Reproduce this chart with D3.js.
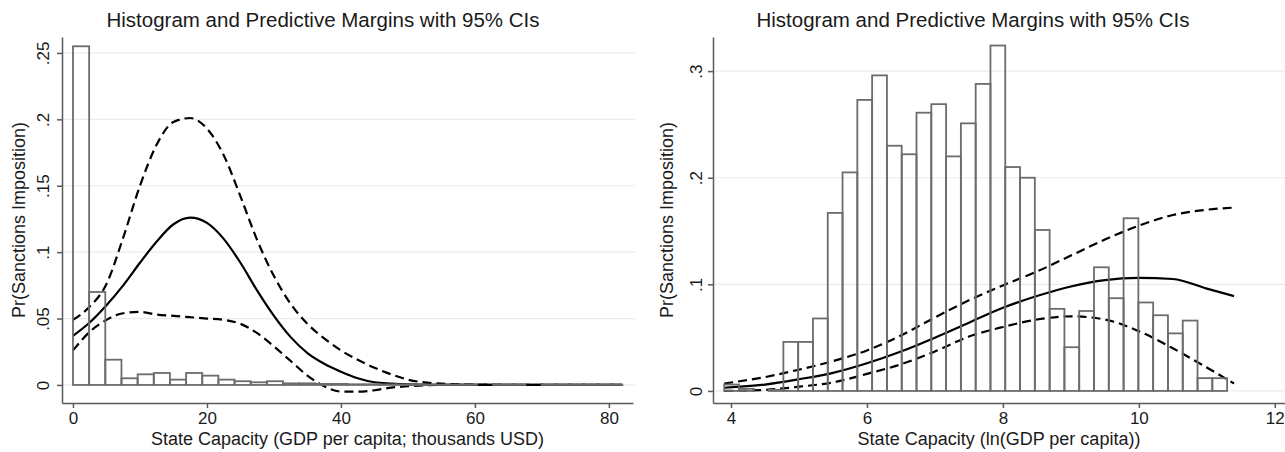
<!DOCTYPE html>
<html lang="en">
<head>
<meta charset="UTF-8">
<title>Histogram and Predictive Margins with 95% CIs</title>
<style>
  body { margin: 0; background: #fff; font-family: "Liberation Sans", Arial, sans-serif; }
  svg { display: block; background: #fff; }
  .grid line { stroke: #ebebeb; stroke-width: 1.2; }
  .axis path, .axis line { stroke: #5a5a5a; stroke-width: 1.5; }
  .axis text { font-size: 17px; fill: #1a1a1a; font-family: "Liberation Sans", Arial, sans-serif; }
  .bar { fill: none; stroke: #6c6c6c; stroke-width: 1.8; }
  .fit { fill: none; stroke: #000; stroke-width: 2.2; }
  .ci { stroke-dasharray: 9 5; }
  .title { font-size: 20.5px; fill: #1a1a1a; }
  .label { font-size: 18px; fill: #1a1a1a; }
</style>
<script src="https://d3js.org/d3.v7.min.js"></script>
</head>
<body>
<svg width="1285" height="452"></svg>
<script>
// ---- left panel: GDP per capita (thousands USD) ----
const leftHistStart = 0;
const leftHistWidth = 2.412;
const leftHistDensity = [0.255, 0.070, 0.019, 0.005, 0.008, 0.009, 0.004, 0.009, 0.007, 0.004,
  0.0028, 0.002, 0.0028, 0.0012, 0.0012, 0.0008, 0.0008, 0.0005, 0.0005, 0.0004,
  0.0004, 0.0002, 0.0002, 0.0002, 0.0002, 0, 0.0002, 0.0002, 0, 0.0001,
  0.0001, 0.0001, 0.0001, 0.0001];
const leftX = [0, 2.5, 5, 7.5, 10, 12.5, 15, 17.5, 20, 22.5, 25, 27.5, 30, 32.5, 35, 37.5,
  40, 42.5, 45, 47.5, 50, 55, 60, 70, 82];
const leftFit = [0.037, 0.047, 0.060, 0.075, 0.092, 0.108, 0.121, 0.126, 0.122, 0.110, 0.092,
  0.071, 0.052, 0.036, 0.024, 0.016, 0.010, 0.005, 0.002, 0.001, 0.0004, 0.0001, 0, 0, 0];
const leftUpper = [0.049, 0.059, 0.076, 0.111, 0.150, 0.181, 0.198, 0.201, 0.193, 0.173, 0.142,
  0.109, 0.082, 0.061, 0.046, 0.035, 0.026, 0.019, 0.013, 0.008, 0.004, 0.001, 0.0003, 0, 0];
const leftLower = [0.026, 0.040, 0.049, 0.054, 0.055, 0.053, 0.052, 0.051, 0.050, 0.049, 0.046,
  0.039, 0.029, 0.018, 0.007, -0.001, -0.005, -0.005, -0.004, -0.002, -0.001, 0, 0, 0, 0];
const leftXTicks = [0, 20, 40, 60, 80];
const leftYTicks = [0, 0.05, 0.1, 0.15, 0.2, 0.25];
const leftYTickLabels = ["0", ".05", ".1", ".15", ".2", ".25"];

// ---- right panel: ln(GDP per capita) ----
const rightHistStart = 3.90;
const rightHistWidth = 0.2176;
const rightHistDensity = [0.006, 0.002, 0, 0.001, 0.046, 0.046, 0.068, 0.167, 0.205, 0.273,
  0.296, 0.230, 0.222, 0.261, 0.269, 0.220, 0.251, 0.288, 0.324, 0.210,
  0.200, 0.151, 0.077, 0.041, 0.075, 0.116, 0.087, 0.162, 0.083, 0.071,
  0.054, 0.066, 0.012, 0.012];
const rightX = [3.9, 4.5, 5, 5.5, 6, 6.5, 7, 7.5, 8, 8.5, 9, 9.5, 10, 10.5, 11, 11.4];
const rightFit = [0.003, 0.006, 0.011, 0.017, 0.026, 0.037, 0.050, 0.064, 0.078, 0.089,
  0.098, 0.104, 0.106, 0.105, 0.096, 0.089];
const rightUpper = [0.007, 0.013, 0.020, 0.028, 0.038, 0.052, 0.069, 0.085, 0.099, 0.112,
  0.127, 0.142, 0.155, 0.165, 0.170, 0.172];
const rightLower = [0.000, 0.001, 0.004, 0.008, 0.016, 0.025, 0.037, 0.051, 0.060, 0.067,
  0.070, 0.067, 0.056, 0.040, 0.022, 0.007];
const rightXTicks = [4, 6, 8, 10, 12];
const rightYTicks = [0, 0.1, 0.2, 0.3];
const rightYTickLabels = ["0", ".1", ".2", ".3"];

const titleText = "Histogram and Predictive Margins with 95% CIs";
const yTitle = "Pr(Sanctions Imposition)";

const svg = d3.select("svg");

function drawPanel(p) {
  const x = d3.scaleLinear().domain(p.xDomain).range([p.left, p.right]);
  const y = d3.scaleLinear().domain(p.yDomain).range([p.bottom, p.top]);
  const g = svg.append("g");

  // grid
  g.append("g").attr("class", "grid")
    .selectAll("line").data(p.yTicks).join("line")
    .attr("x1", p.left).attr("x2", p.gridEnd)
    .attr("y1", d => y(d)).attr("y2", d => y(d));

  // fitted lines
  const line = d3.line().x(d => x(d[0])).y(d => y(d[1])).curve(d3.curveMonotoneX);
  const series = [[p.fit, "fit"], [p.upper, "fit ci"], [p.lower, "fit ci"]];
  series.forEach(([vals, cls]) => {
    g.append("path").attr("class", cls)
      .attr("d", line(p.xs.map((v, i) => [v, vals[i]])));
  });

  // histogram
  g.append("g").selectAll("rect").data(p.hist).join("rect")
    .attr("class", "bar")
    .attr("x", (d, i) => x(p.histStart + i * p.histWidth))
    .attr("width", (d, i) => x(p.histStart + (i + 1) * p.histWidth) - x(p.histStart + i * p.histWidth))
    .attr("y", d => y(d))
    .attr("height", d => y(0) - y(d));

  // axes
  const ax = g.append("g").attr("class", "axis")
    .attr("transform", `translate(0,${p.bottom})`)
    .call(d3.axisBottom(x).tickValues(p.xTicks).tickSize(5).tickSizeOuter(0).tickFormat(d3.format("d")));
  ax.selectAll("text").attr("y", 21).attr("dy", 0);

  const ay = g.append("g").attr("class", "axis")
    .attr("transform", `translate(${p.left},0)`)
    .call(d3.axisLeft(y).tickValues(p.yTicks).tickSize(5).tickSizeOuter(0)
      .tickFormat((d, i) => p.yLabels[i]));
  ay.selectAll("text")
    .attr("transform", "rotate(-90)")
    .attr("x", 0).attr("y", p.yTickOff).attr("dy", 0)
    .attr("text-anchor", "middle");

  // texts
  svg.append("text").attr("class", "title")
    .attr("x", p.titleX).attr("y", 27).attr("text-anchor", "middle").text(titleText);
  svg.append("text").attr("class", "label")
    .attr("x", (p.left + p.right) / 2).attr("y", 445).attr("text-anchor", "middle").text(p.xTitle);
  svg.append("text").attr("class", "label")
    .attr("transform", `translate(${p.yTitleX},220) rotate(-90)`)
    .attr("text-anchor", "middle").text(yTitle);
}

drawPanel({
  left: 62, right: 633, top: 37, bottom: 403, gridEnd: 635,
  xDomain: [-1.64, 83.6], yDomain: [-0.0136, 0.262],
  hist: leftHistDensity, histStart: leftHistStart, histWidth: leftHistWidth,
  xs: leftX, fit: leftFit, upper: leftUpper, lower: leftLower,
  xTicks: leftXTicks, yTicks: leftYTicks, yLabels: leftYTickLabels, yTickOff: -13,
  titleX: 323, xTitle: "State Capacity (GDP per capita; thousands USD)", yTitleX: 25
});

drawPanel({
  left: 713, right: 1285, top: 37, bottom: 403, gridEnd: 1285,
  xDomain: [3.735, 12.15], yDomain: [-0.0113, 0.332],
  hist: rightHistDensity, histStart: rightHistStart, histWidth: rightHistWidth,
  xs: rightX, fit: rightFit, upper: rightUpper, lower: rightLower,
  xTicks: rightXTicks, yTicks: rightYTicks, yLabels: rightYTickLabels, yTickOff: -11,
  titleX: 973, xTitle: "State Capacity (ln(GDP per capita))", yTitleX: 673
});
</script>
</body>
</html>
